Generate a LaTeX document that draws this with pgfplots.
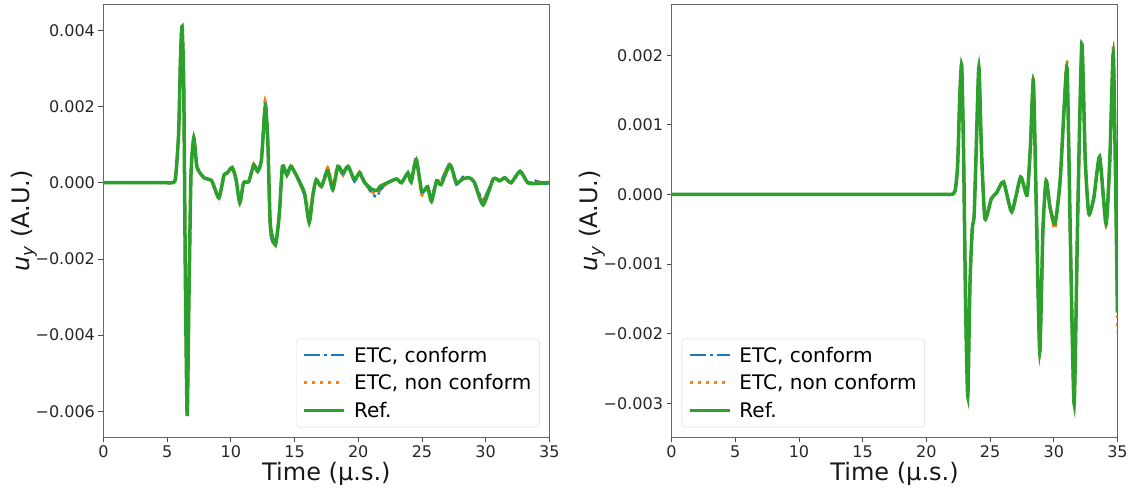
\documentclass[border=0pt]{standalone}
\usepackage{fontspec}
\setmainfont{DejaVu Sans}
\usepackage{pgfplots}
\usepackage{pgfplotstable}
\pgfplotsset{compat=1.18}

\definecolor{mplblue}{HTML}{1F77B4}
\definecolor{mplorange}{HTML}{FF7F0E}
\definecolor{mplgreen}{HTML}{2CA02C}

% columns: time, Ref., ETC conform, ETC non conform
\pgfplotstableread{
t      ref       conf      non
0      0         0         0
1      0         0         0
2      0         0         0
3      0         0         0
4      0         0         0
4.6    0         0         0
5.0    0         0         0
5.35   0         0         0
5.65   0.0001    0.0001    0.0001
5.9    0.0013    0.0013    0.0013
6.05   0.0033    0.0033    0.0034
6.17   0.0041    0.0041    0.00418
6.3    0.0026    0.0026    0.0026
6.43   -0.0025   -0.0025   -0.0025
6.57   -0.00612  -0.00612  -0.0061
6.71   -0.0030   -0.0030   -0.0030
6.87   0.0002    0.0002    0.0002
7.09   0.00118   0.00118   0.00118
7.35   0.0004    0.0004    0.0004
7.9    0.00013   0.00013   0.00013
8.5    0.00005   0.00005   0.00005
9.06   -0.0004   -0.0004   -0.0004
9.46   0.0002    0.0002    0.0002
9.7    0.00025   0.00025   0.00025
10.1   0.0004    0.0004    0.0004
10.4   0.0001    0.0001    0.0001
10.7   -0.00053  -0.00053  -0.00053
11.0   0         0         0
11.4   0.00003   0.00003   0.00003
11.8   0.00047   0.00047   0.0005
12.1   0.0003    0.0003    0.0003
12.4   0.0006    0.0006    0.0006
12.7   0.0020    0.0022    0.00215
12.9   0.0011    0.0011    0.0011
13.1   -0.0011   -0.0013   -0.0013
13.5   -0.00163  -0.0016   -0.0016
13.8   -0.00084  -0.00084  -0.00084
14.05  0.00043   0.00043   0.00043
14.4   0.0002    0.0002    0.0002
14.7   0.00043   0.00045   0.00047
15.1   0.00022   0.00022   0.00022
15.5   -0.00005  -0.0001   -0.0001
15.8   -0.0003   -0.00035  -0.0003
16.15  -0.00105  -0.0009   -0.0008
16.45  -0.0003   -0.0003   -0.0003
16.7   0.00008   0.00008   0.00008
17.1   -0.0001   -0.0001   -0.0001
17.6   0.0003    0.00038   0.0004
18.0   -0.00018  -0.0001   -0.00005
18.4   0.00043   0.0004    0.00045
18.8   0.00026   0.0002    0.0002
19.2   0.00043   0.00045   0.00045
19.7   0.00008   0.00003   0.00005
20.1   0.00026   0.0003    0.00028
20.5   0         0.00003   0
21.1   -0.00018  -0.0003   -0.00025
21.5   -0.0002   -0.00037  -0.0003
21.7   -0.0001   -0.0002   -0.00015
22.3   0         0         0
23.0   0.0001    0.0001    0.0001
23.4   0         0         0
23.9   0.00026   0.00026   0.00026
24.15  0.00002   0.00002   0.00002
24.55  0.0006    0.00068   0.00065
24.95  -0.00018  -0.00025  -0.0003
25.2   -0.0002   -0.0002   -0.0002
25.45  -0.0001   -0.0001   -0.0001
25.75  -0.00049  -0.0004   -0.0004
26.15  0.00005   0.00005   0.00005
26.5   -0.00005  0.00005   0.00003
27.2   0.00047   0.0005    0.00052
27.7   0         -0.00005  0
28.2   0.0001    0.00015   0.0001
28.7   0.00013   0.00013   0.00013
29.1   0.00002   0.00002   0.00002
29.8   -0.00058  -0.00045  -0.0005
30.6   0.0001    0.0001    0.0001
31.1   0.00005   0.00005   0.00005
31.5   0.00013   0.00013   0.00013
32.0   0         0         0
32.7   0.0003    0.0003    0.0003
33.3   0         0         0
33.9   -0.00002  0.00005   0.00003
34.7   0         -0.00003  0
35     0         0         0
}\leftdata

\pgfplotstableread{
t      ref       conf      non
0      0         0         0
2      0         0         0
4      0         0         0
6      0         0         0
8      0         0         0
10     0         0         0
12     0         0         0
14     0         0         0
16     0         0         0
18     0         0         0
20     0         0         0
21     0         0         0
21.6   0         0         0
22.0   0         0         0
22.25  0.00005   0.00005   0.00005
22.45  0.0004    0.0004    0.0004
22.62  0.0014    0.0014    0.0014
22.77  0.00185   0.00187   0.0019
22.92  0.0006    0.0006    0.0006
23.08  -0.0016   -0.0016   -0.0016
23.25  -0.0029   -0.0029   -0.0029
23.42  -0.0013   -0.0013   -0.0013
23.6   -0.0005   -0.0005   -0.0005
23.75  -0.0003   -0.0003   -0.0003
23.92  0.0007    0.0007    0.0007
24.12  0.00183   0.00183   0.00183
24.33  0.0006    0.0006    0.0006
24.6   -0.00035  -0.00035  -0.00035
25.1   -0.00006  -0.00006  -0.00006
25.5   0.00002   0.00002   0.00002
26.06  0.00018   0.00018   0.00018
26.7   -0.00025  -0.00025  -0.00025
27.4   0.00025   0.00025   0.00025
27.9   -0.00001  -0.00001  -0.00001
28.17  0.0007    0.0007    0.0007
28.4   0.00162   0.00165   0.0017
28.63  -0.0002   -0.0002   -0.0002
28.9   -0.00226  -0.00226  -0.00226
29.15  -0.0005   -0.0005   -0.0005
29.4   0.0002    0.0002    0.0002
29.7   -0.00018  -0.00018  -0.00018
30.1   -0.00042  -0.00048  -0.0005
30.5   0.0002    0.0002    0.0002
30.8   0.0012    0.0012    0.0012
31.05  0.00178   0.00182   0.0019
31.32  -0.0008   -0.0008   -0.0008
31.6   -0.00301  -0.00301  -0.00301
31.88  -0.0003   -0.0003   -0.0003
32.2   0.00216   0.00216   0.00216
32.47  0.0005    0.0005    0.0005
32.75  -0.00028  -0.00028  -0.00028
33.15  -0.00004  -0.00004  -0.00004
33.6   0.00054   0.00054   0.00054
34.1   -0.00042  -0.00042  -0.00045
34.4   0.0005    0.0005    0.0005
34.67  0.00202   0.00205   0.00213
34.85  0.0002    0.0002    0.0002
35     -0.0017   -0.00166  -0.00198
}\rightdata

\pgfplotsset{
  panel/.style={
    scale only axis,
    width=445pt, height=432pt,
    xmin=0, xmax=35,
    xtick={0,5,...,35},
    tick pos=left,
    tick align=outside,
    major tick length=5pt,
    every tick/.style={black!70, line width=0.8pt},
    axis line style={black!60, line width=0.8pt},
    /pgf/number format/assume math mode=true,
    ticklabel style={font=\fontsize{16}{19}\selectfont, text=black!85},
    xlabel={Time (µ.s.)},
    xlabel style={font=\fontsize{24}{28}\selectfont, text=black!90, yshift=3pt},
    ylabel={\textit{u}\textsubscript{\textit{y}} (A.U.)},
    ylabel style={font=\fontsize{24}{28}\selectfont, text=black!90,
      at={(axis description cs:-0.178,0.5)}, anchor=center},
    scaled y ticks=false,
    legend cell align=left,
    legend style={font=\fontsize{20}{24}\selectfont, draw=black!15,
      rounded corners=3pt, fill=white, fill opacity=0.8, text opacity=1,
      inner xsep=6pt, inner ysep=6pt, row sep=7pt, column sep=6pt},
    legend image code/.code={\draw[##1] (0pt,0pt) -- (40pt,0pt);},
  },
  conf/.style={mplblue, line width=2.5pt, dash pattern=on 16pt off 4pt on 3pt off 4pt, smooth, tension=0.35},
  non/.style={mplorange, line width=3pt, dash pattern=on 3pt off 5pt, smooth, tension=0.35},
  ref/.style={mplgreen, line width=3.5pt, smooth, tension=0.35},
}

\begin{document}
\begin{tikzpicture}
\begin{axis}[panel,
  ymin=-0.00668, ymax=0.00468,
  ytick={-0.006,-0.004,-0.002,0,0.002,0.004},
  yticklabels={−0.006,−0.004,−0.002,0.000,0.002,0.004},
  legend style={at={(axis description cs:0.978,0.023)}, anchor=south east},
]
\addplot[conf] table[x=t, y=conf] {\leftdata};
\addplot[non] table[x=t, y=non] {\leftdata};
\addplot[ref] table[x=t, y=ref] {\leftdata};
\legend{{ETC, conform}, {ETC, non conform}, Ref.}
\end{axis}

\begin{axis}[panel, xshift=567pt,
  ymin=-0.00349, ymax=0.00273,
  ytick={-0.003,-0.002,-0.001,0,0.001,0.002},
  yticklabels={−0.003,−0.002,−0.001,0.000,0.001,0.002},
  legend style={at={(axis description cs:0.0225,0.023)}, anchor=south west},
]
\addplot[conf] table[x=t, y=conf] {\rightdata};
\addplot[non] table[x=t, y=non] {\rightdata};
\addplot[ref] table[x=t, y=ref] {\rightdata};
\legend{{ETC, conform}, {ETC, non conform}, Ref.}
\end{axis}
% a little white margin, as in the original figure
\path (current bounding box.south west) ++(-8pt,0pt) (current bounding box.north east) ++(0pt,4pt);
\end{tikzpicture}
\end{document}
